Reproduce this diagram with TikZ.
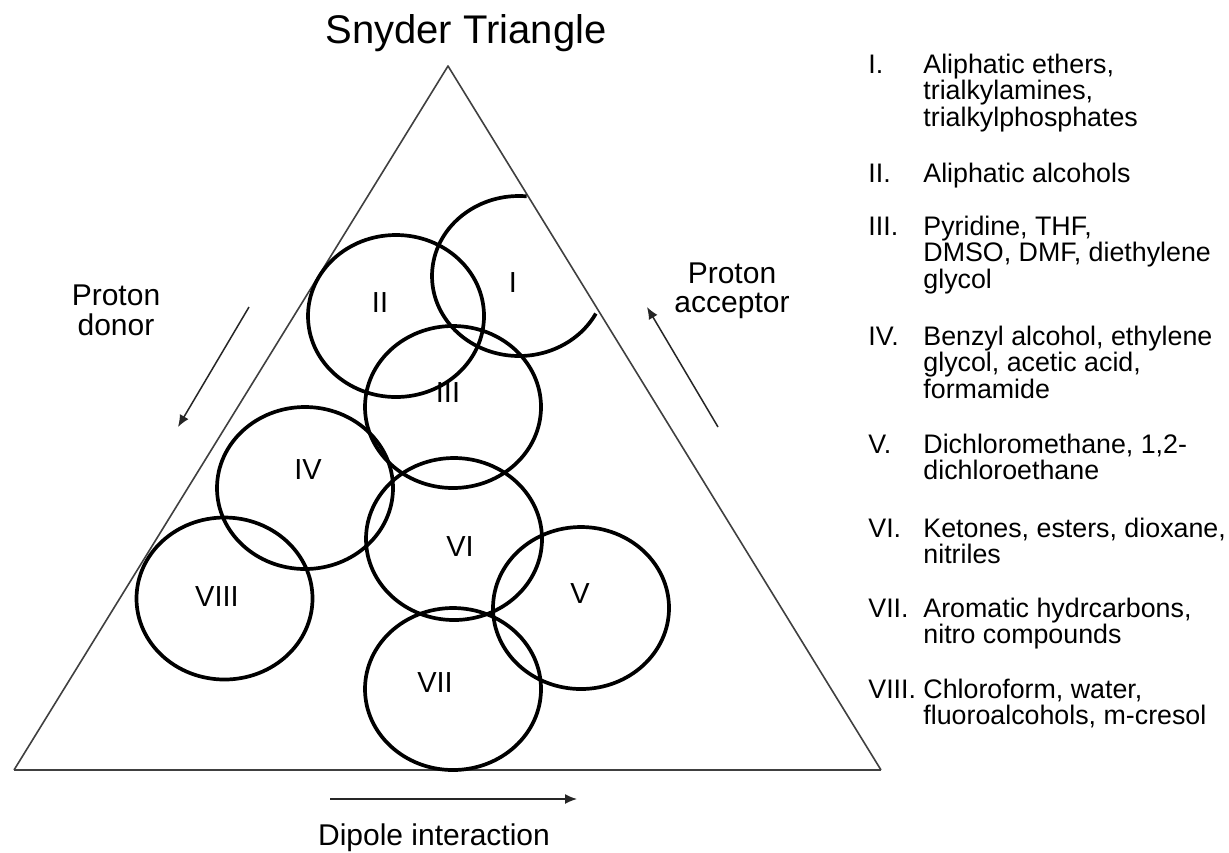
\documentclass[tikz,border=0pt]{standalone}
\usepackage{fontspec}
\setmainfont{Liberation Sans}
\usetikzlibrary{arrows.meta}
\begin{document}
\begin{tikzpicture}[x=0.5pt,y=-0.5pt,
  edge/.style={draw=black!75, line width=0.8pt},
  ring/.style={draw=black, line width=1.85pt},
  dirarrow/.style={draw=black!85, line width=0.75pt, -{Latex[length=6pt,width=5pt]}},
  numlab/.style={font=\fontsize{14.5}{16}\selectfont, inner sep=0pt},
  axlab/.style={font=\fontsize{15}{15}\selectfont, inner sep=0pt, anchor=base},
  legnum/.style={font=\fontsize{13.4}{13.25}\selectfont, inner sep=0pt, anchor=base west},
  legtext/.style={font=\fontsize{13.4}{13.25}\selectfont, inner sep=0pt, anchor=base west},
]
\useasboundingbox (0,0) rectangle (1229,852);
\fill[white] (0,0) rectangle (1229,852);

% title
\node[font=\fontsize{20}{24}\selectfont, inner sep=0pt, anchor=base] (title) at (466,43) {Snyder Triangle};

% triangle
\coordinate (apex) at (448,66);
\coordinate (bl) at (14,770);
\coordinate (br) at (881,770);
\draw[edge, line join=round] (bl) -- (apex) -- (br);
\draw[edge, line width=1.2pt] (bl) -- (br);

% solvent group circles
\draw[ring] (526.6,196.3) arc [start angle=85, end angle=332, x radius=43.5pt, y radius=40pt];
\draw[ring] (396,316) ellipse [x radius=88, y radius=81];
\draw[ring] (453,407) ellipse [x radius=88, y radius=81];
\draw[ring] (305,488) ellipse [x radius=88, y radius=81];
\draw[ring] (581,608) ellipse [x radius=88, y radius=81];
\draw[ring] (454,539) ellipse [x radius=88, y radius=81];
\draw[ring] (453,689) ellipse [x radius=88, y radius=81];
\draw[ring] (224.5,598.5) ellipse [x radius=88, y radius=81];

% circle labels
\node[numlab] (cI) at (513,283) {I};
\node[numlab] (cII) at (380,303) {II};
\node[numlab] (cIII) at (448,393) {III};
\node[numlab] (cIV) at (308,470) {IV};
\node[numlab] (cV) at (580,594) {V};
\node[numlab] (cVI) at (460,547) {VI};
\node[numlab] (cVII) at (435,683) {VII};
\node[numlab] (cVIII) at (217,597) {VIII};

% axis labels
\node[axlab] (donor) at (116,305) {\parbox[t]{90pt}{\centering Proton\\donor}};
\node[axlab, font=\fontsize{15}{14.5}\selectfont] (acceptor) at (732,283) {\parbox[t]{90pt}{\centering Proton\\acceptor}};
\node[axlab] (dipole) at (434,845) {Dipole interaction};

% direction arrows
\coordinate (d1) at (249,307);
\coordinate (d2) at (178,427);
\draw[dirarrow] (d1) -- (d2);
\coordinate (a1) at (718,427);
\coordinate (a2) at (647,307);
\draw[dirarrow] (a1) -- (a2);
\coordinate (p1) at (330,799);
\coordinate (p2) at (577,799);
\draw[dirarrow] (p1) -- (p2);

% legend
\node[legnum] (n1) at (868,73) {I.};
\node[legtext] (t1) at (923,73) {\parbox[t]{300pt}{Aliphatic ethers,\\trialkylamines,\\trialkylphosphates}};
\node[legnum] (n2) at (868,182) {II.};
\node[legtext] (t2) at (923,182) {\parbox[t]{300pt}{Aliphatic alcohols}};
\node[legnum] (n3) at (868,235) {III.};
\node[legtext] (t3) at (923,235) {\parbox[t]{300pt}{Pyridine, THF,\\DMSO, DMF, diethylene\\glycol}};
\node[legnum] (n4) at (868,345) {IV.};
\node[legtext] (t4) at (923,345) {\parbox[t]{300pt}{Benzyl alcohol, ethylene\\glycol, acetic acid,\\formamide}};
\node[legnum] (n5) at (868,453) {V.};
\node[legtext] (t5) at (923,453) {\parbox[t]{300pt}{Dichloromethane, 1,2-\\dichloroethane}};
\node[legnum] (n6) at (868,537) {VI.};
\node[legtext] (t6) at (923,537) {\parbox[t]{300pt}{Ketones, esters, dioxane,\\nitriles}};
\node[legnum] (n7) at (868,617) {VII.};
\node[legtext] (t7) at (923,617) {\parbox[t]{300pt}{Aromatic hydrcarbons,\\nitro compounds}};
\node[legnum] (n8) at (868,698) {VIII.};
\node[legtext] (t8) at (923,698) {\parbox[t]{300pt}{Chloroform, water,\\fluoroalcohols, m-cresol}};
\end{tikzpicture}
\end{document}
